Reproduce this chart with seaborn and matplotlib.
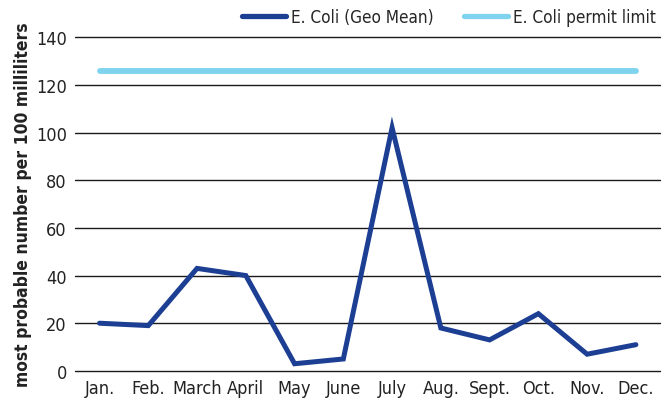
import pandas as pd
import seaborn as sns
import matplotlib.pyplot as plt

# 数据
months = ['Jan.', 'Feb.', 'March', 'April', 'May', 'June', 'July', 'Aug.', 'Sept.', 'Oct.', 'Nov.', 'Dec.']
geo_mean = [20, 19, 43, 40, 3, 5, 102, 18, 13, 24, 7, 11]
permit_limit = [126] * 12

df = pd.DataFrame({'month': months, 'E. Coli (Geo Mean)': geo_mean, 'E. Coli permit limit': permit_limit})
df_long = df.melt(id_vars='month', var_name='series', value_name='value')

sns.set_style('white')
plt.rcParams['font.family'] = ['DejaVu Sans']
plt.rcParams['font.stretch'] = 'condensed'

fig = plt.figure(figsize=(6.71, 4.06), dpi=100)
ax = fig.add_axes([0.112, 0.084, 0.872, 0.822])

sns.lineplot(data=df_long, x='month', y='value', hue='series', sort=False,
             palette={'E. Coli (Geo Mean)': '#1c3f94', 'E. Coli permit limit': '#7fd3ee'},
             ax=ax)
for line, lw in zip(ax.lines, [3.6, 4.2]):
    line.set_linewidth(lw)
    line.set_solid_capstyle('round')
    line.set_solid_joinstyle('miter')

ax.set_ylim(0, 140)
ax.set_yticks(range(0, 141, 20))
ax.set_xlim(-0.5, 11.5)
ax.yaxis.grid(True, color='#1a1a1a', linewidth=1.0)
for gl in ax.get_ygridlines():
    gl.set_clip_on(False)
ax.set_axisbelow(True)
for s in ax.spines.values():
    s.set_visible(False)
ax.tick_params(axis='both', length=0, labelsize=13, colors='#222222', pad=6)
ax.set_xlabel('')
ax.set_ylabel('most probable number per 100 milliliters', fontsize=12.5, fontweight='bold', color='#222222', labelpad=3)

handles, labels = ax.get_legend_handles_labels()
leg = ax.legend(handles, labels, loc='lower right', bbox_to_anchor=(1.012, 1.0), ncol=2, frameon=False,
                fontsize=12.3, handlelength=2.6, columnspacing=1.75, handletextpad=0.3,
                borderpad=0.1, borderaxespad=0.55)
for h in leg.get_lines():
    h.set_linewidth(3.8)
    h.set_solid_capstyle('round')

plt.savefig('out.png', dpi=100)
